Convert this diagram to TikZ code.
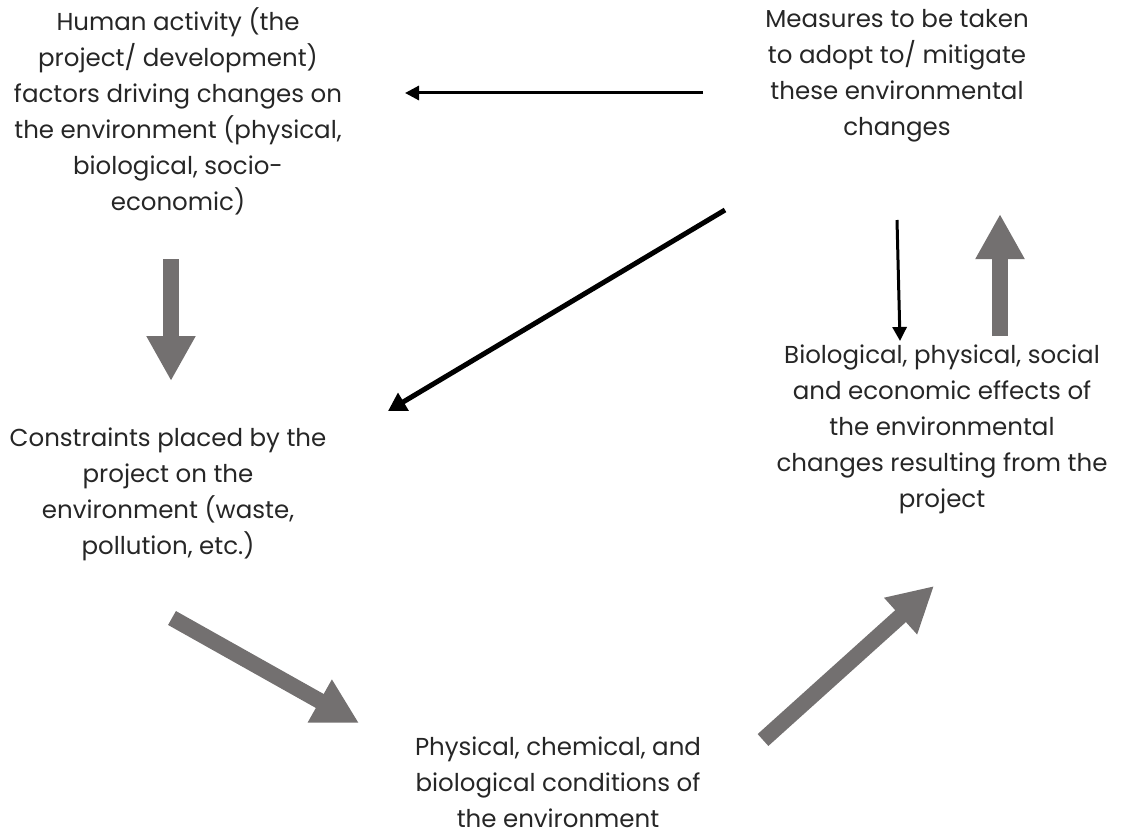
\documentclass[tikz,border=0pt]{standalone}
\usepackage{fontspec}
\setmainfont{Poppins}
\usetikzlibrary{arrows.meta}
\definecolor{blockgray}{RGB}{115,112,112}
\tikzset{
  lbl/.style={align=center, font=\fontsize{24.5}{36}\selectfont, text=black!85, inner sep=0pt},
  blockarrow/.style={draw=blockgray, line width=16pt, line cap=butt, -{Triangle[length=45pt,width=46pt]}},
  thinarrow/.style={draw=black, line width=3pt, -{Triangle[length=14pt,width=14pt]}},
  thickarrow/.style={draw=black, line width=5pt, -{Triangle[length=18pt,width=20pt]}}
}
\begin{document}
\begin{tikzpicture}[x=1pt,y=-1pt]
\useasboundingbox (0,0) rectangle (1121,840);
\node[lbl] (human) at (178,111) {Human activity (the\\project/ development)\\factors driving changes on\\the environment (physical,\\biological, socio-\\economic)};
\node[lbl] (measures) at (897,76) {Measures to be taken\\to adopt to/ mitigate\\these environmental\\changes};
\node[lbl] (constraints) at (168,494) {Constraints placed by the\\project on the\\environment (waste,\\pollution, etc.)};
\node[lbl] (effects) at (942,429) {Biological, physical, social\\and economic effects of\\the environmental\\changes resulting from the\\project};
\node[lbl] (conditions) at (558,782) {Physical, chemical, and\\biological conditions of\\the environment};

\coordinate (a1s) at (703,93);  \coordinate (a1e) at (405,93);
\coordinate (a2s) at (725,210); \coordinate (a2e) at (388,411);
\coordinate (a3s) at (897,220); \coordinate (a3e) at (900,341);
\coordinate (b1s) at (171,259); \coordinate (b1e) at (171,381);
\coordinate (b2s) at (1000,336); \coordinate (b2e) at (1000,214);
\coordinate (b3s) at (172,618); \coordinate (b3e) at (359,723);
\coordinate (b4s) at (763,740); \coordinate (b4e) at (934,586);

\draw[thinarrow] (a1s) -- (a1e);
\draw[thickarrow] (a2s) -- (a2e);
\draw[thinarrow] (a3s) -- (a3e);
\draw[blockarrow] (b1s) -- (b1e);
\draw[blockarrow] (b2s) -- (b2e);
\draw[blockarrow] (b3s) -- (b3e);
\draw[blockarrow] (b4s) -- (b4e);
\end{tikzpicture}
\end{document}
